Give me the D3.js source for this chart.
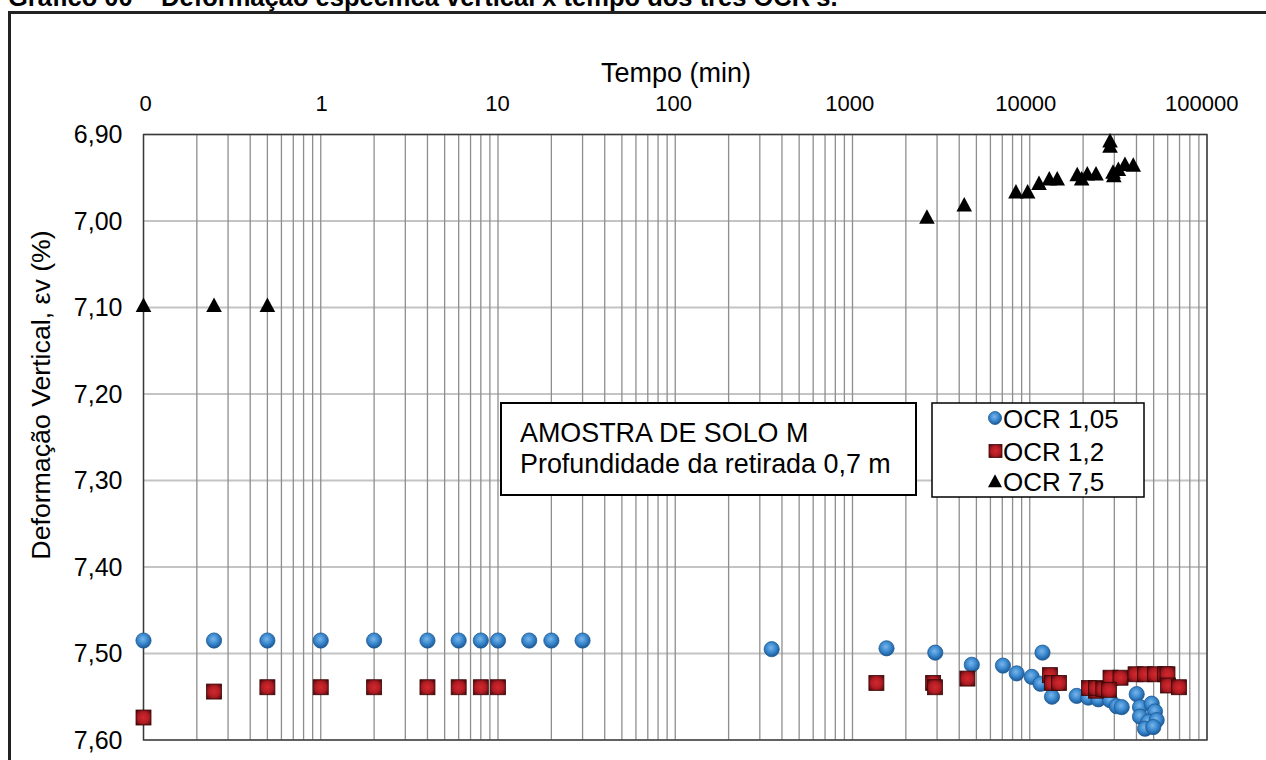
<!DOCTYPE html>
<html>
<head>
<meta charset="utf-8">
<script src="https://cdn.jsdelivr.net/npm/d3@7"></script>
<style>
  body { margin: 0; background: #fff; }
  text { font-family: "Liberation Sans", Arial, sans-serif; fill: #000; }
</style>
</head>
<body>
<div id="chart"></div>
<script>
// tick values / labels
const xTickValues = [0.1, 1, 10, 100, 1000, 10000, 100000];
const xTickLabels = ["0", "1", "10", "100", "1000", "10000", "100000"];
const yTickValues = [6.9, 7.0, 7.1, 7.2, 7.3, 7.4, 7.5, 7.6];
const yTickLabels = ["6,90", "7,00", "7,10", "7,20", "7,30", "7,40", "7,50", "7,60"];

const seriesNames = ["OCR 1,05", "OCR 1,2", "OCR 7,5"];

// [tempo (min), deformação (%)]
const ocr105 = [
  [0.1, 7.485], [0.25, 7.485], [0.5, 7.485], [1, 7.485], [2, 7.485], [4, 7.485],
  [6, 7.485], [8, 7.485], [10, 7.485], [15, 7.485], [20, 7.485], [30, 7.485],
  [350, 7.495], [1556, 7.494], [2931, 7.499], [4710, 7.513], [7060, 7.514],
  [8440, 7.523], [10260, 7.527], [11800, 7.499], [11500, 7.535], [13350, 7.550],
  [18400, 7.549], [21390, 7.551], [24370, 7.553], [28380, 7.554], [30950, 7.561],
  [33020, 7.562], [40120, 7.547], [41880, 7.562], [48750, 7.558], [50890, 7.567],
  [41880, 7.573], [46670, 7.579], [52030, 7.577], [44700, 7.587], [49790, 7.585]
];

const ocr12 = [
  [0.1, 7.574], [0.25, 7.544], [0.5, 7.539], [1, 7.539], [2, 7.539], [4, 7.539],
  [6, 7.539], [8, 7.539], [10, 7.539],
  [1364, 7.534], [2850, 7.534], [2920, 7.539], [4450, 7.529],
  [13000, 7.525], [13360, 7.534], [14620, 7.534],
  [21600, 7.540], [23640, 7.543], [23640, 7.540], [26000, 7.541], [28550, 7.528],
  [32510, 7.528], [28000, 7.542], [39530, 7.524], [44670, 7.524], [50890, 7.524],
  [57940, 7.524], [59840, 7.524], [60260, 7.537], [69510, 7.539]
];

const ocr75 = [
  [0.1, 7.097], [0.25, 7.097], [0.5, 7.097], [2630, 6.995], [4270, 6.981],
  [8360, 6.966], [9730, 6.966], [11280, 6.956], [12890, 6.951], [14290, 6.951],
  [18530, 6.946], [19630, 6.951], [21120, 6.945], [23650, 6.945], [28380, 6.907],
  [28380, 6.913], [29510, 6.943], [29800, 6.947], [31620, 6.940], [34450, 6.934],
  [38370, 6.935]
];

const W = 1266, H = 760;
const marginLeft = 143.5, marginTop = 134.5;
const width = 1207 - marginLeft;
const height = 740 - marginTop;

const svg = d3.select("#chart")
  .append("svg")
  .attr("width", W)
  .attr("height", H);

svg.append("rect").attr("width", W).attr("height", H).attr("fill", "#fff");

// gradients for the markers
const defs = svg.append("defs");
const gBlue = defs.append("radialGradient").attr("id", "gBlue").attr("cx", "45%").attr("cy", "40%").attr("r", "60%");
gBlue.append("stop").attr("offset", "0%").attr("stop-color", "#79b6ea");
gBlue.append("stop").attr("offset", "55%").attr("stop-color", "#3a88ce");
gBlue.append("stop").attr("offset", "100%").attr("stop-color", "#1b5896");
const gRed = defs.append("radialGradient").attr("id", "gRed").attr("cx", "50%").attr("cy", "50%").attr("r", "65%");
gRed.append("stop").attr("offset", "0%").attr("stop-color", "#d2282f");
gRed.append("stop").attr("offset", "55%").attr("stop-color", "#b21c23");
gRed.append("stop").attr("offset", "100%").attr("stop-color", "#4a090b");

// page title (cut at the top in the original) and outer frame
svg.append("text")
  .attr("x", 8).attr("y", 6)
  .style("font-size", "25.5px").style("font-weight", "bold")
  .text("Gráfico 00 – Deformação específica vertical x tempo dos três OCR's.");

svg.append("rect")
  .attr("x", 9.5).attr("y", 12.5)
  .attr("width", 1400).attr("height", 900)
  .attr("fill", "none").attr("stroke", "#222").attr("stroke-width", 3);

const g = svg.append("g").attr("transform", "translate(" + marginLeft + "," + marginTop + ")");

const x = d3.scaleLog().domain([0.1, 100000]).range([0, width]);
const y = d3.scaleLinear().domain([6.9, 7.6]).range([0, height]);

// grid
g.append("g").selectAll("line")
  .data(yTickValues)
  .enter().append("line")
  .attr("x1", 0).attr("x2", width)
  .attr("y1", d => y(d)).attr("y2", d => y(d))
  .attr("stroke", "#c4c4c4").attr("stroke-width", 2);

g.append("g").selectAll("line")
  .data(x.ticks())
  .enter().append("line")
  .attr("x1", d => x(d)).attr("x2", d => x(d))
  .attr("y1", 0).attr("y2", height)
  .attr("stroke", "#8e8e8e").attr("stroke-width", 1.3);

g.append("rect")
  .attr("width", width).attr("height", height)
  .attr("fill", "none").attr("stroke", "#3a3a3a").attr("stroke-width", 1.4);

// axes
const xAxis = g.append("g")
  .call(d3.axisTop(x).tickValues(xTickValues).tickFormat((d, i) => xTickLabels[i]).tickSize(0).tickPadding(23.5));
xAxis.select(".domain").remove();
// excel puts the labels a bit short of the gridlines
xAxis.selectAll("text").style("font-size", "22px").attr("font-family", null)
  .attr("dx", (d, i) => 1.5 - i * 1.2);

const yAxis = g.append("g")
  .call(d3.axisLeft(y).tickValues(yTickValues).tickFormat((d, i) => yTickLabels[i]).tickSize(0).tickPadding(21));
yAxis.select(".domain").remove();
yAxis.selectAll("text").style("font-size", "25px").attr("font-family", null);

svg.append("text")
  .attr("x", 676).attr("y", 82)
  .attr("text-anchor", "middle")
  .style("font-size", "27px")
  .text("Tempo (min)");

svg.append("text")
  .attr("transform", "translate(50,395) rotate(-90)")
  .attr("text-anchor", "middle")
  .style("font-size", "26.7px")
  .text("Deformação Vertical, εv (%)");

// markers
const triPath = "M0,-7.5L7.8,7L-7.8,7Z";

function drawCircles(sel, data) {
  sel.selectAll("circle").data(data).enter().append("circle")
    .attr("cx", d => x(d[0])).attr("cy", d => y(d[1]))
    .attr("r", 7.6)
    .attr("fill", "url(#gBlue)").attr("stroke", "#1d5a95").attr("stroke-width", 0.8);
}
function drawSquares(sel, data) {
  sel.selectAll("rect").data(data).enter().append("rect")
    .attr("x", d => x(d[0]) - 7.5).attr("y", d => y(d[1]) - 7.5)
    .attr("width", 15).attr("height", 15)
    .attr("fill", "url(#gRed)").attr("stroke", "#3c0708").attr("stroke-width", 0.8);
}
function drawTriangles(sel, data) {
  sel.selectAll("path").data(data).enter().append("path")
    .attr("d", triPath)
    .attr("transform", d => "translate(" + x(d[0]) + "," + y(d[1]) + ")")
    .attr("fill", "#000");
}

drawCircles(g.append("g"), ocr105);
drawSquares(g.append("g"), ocr12);
drawTriangles(g.append("g"), ocr75);

// text box
svg.append("rect")
  .attr("x", 501).attr("y", 403).attr("width", 415).attr("height", 92)
  .attr("fill", "#fff").attr("stroke", "#000").attr("stroke-width", 2);
svg.append("text").attr("x", 520).attr("y", 442).style("font-size", "26.9px").text("AMOSTRA DE SOLO M");
svg.append("text").attr("x", 520).attr("y", 473).style("font-size", "26.9px").text("Profundidade da retirada 0,7 m");

// legend
svg.append("rect")
  .attr("x", 932).attr("y", 403).attr("width", 212).attr("height", 94)
  .attr("fill", "#fff").attr("stroke", "#000").attr("stroke-width", 1.5);
const legY = [418, 451, 481];
const leg = svg.append("g");
leg.append("circle").attr("cx", 995).attr("cy", legY[0]).attr("r", 6.5)
  .attr("fill", "url(#gBlue)").attr("stroke", "#1d5a95").attr("stroke-width", 0.8);
leg.append("rect").attr("x", 989).attr("y", legY[1] - 6.5).attr("width", 13).attr("height", 13)
  .attr("fill", "url(#gRed)").attr("stroke", "#3c0708").attr("stroke-width", 0.8);
leg.append("path").attr("d", triPath).attr("transform", "translate(995," + legY[2] + ") scale(0.9)").attr("fill", "#000");
leg.selectAll("text").data(seriesNames).enter().append("text")
  .attr("x", 1003).attr("y", (d, i) => legY[i] + 9.5)
  .style("font-size", "26px")
  .text(d => d);
</script>
</body>
</html>
